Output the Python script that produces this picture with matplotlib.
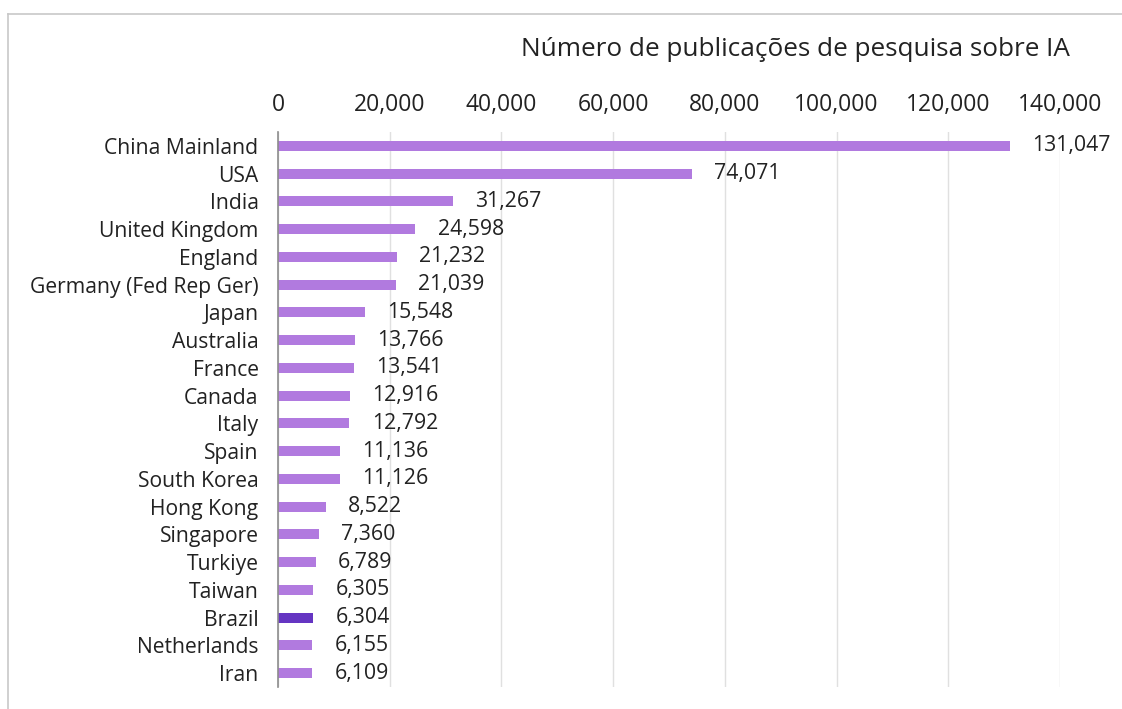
import matplotlib.pyplot as plt
from matplotlib.lines import Line2D

countries = ["China Mainland", "USA", "India", "United Kingdom", "England",
             "Germany (Fed Rep Ger)", "Japan", "Australia", "France", "Canada",
             "Italy", "Spain", "South Korea", "Hong Kong", "Singapore", "Turkiye",
             "Taiwan", "Brazil", "Netherlands", "Iran"]
values = [131047, 74071, 31267, 24598, 21232, 21039, 15548, 13766, 13541, 12916,
          12792, 11136, 11126, 8522, 7360, 6789, 6305, 6304, 6155, 6109]
highlight = "Brazil"
xticks = [0, 20000, 40000, 60000, 80000, 100000, 120000, 140000]
title = "Número de publicações de pesquisa sobre IA"

plt.rcParams['font.family'] = ['Open Sans', 'DejaVu Sans']

fig = plt.figure(figsize=(11.22, 7.09), dpi=100)
ax = fig.add_axes([278/1122, 1-687/709, (1060-278)/1122, (687-132)/709])

colors = ["#6535C2" if c == highlight else "#B17ADF" for c in countries]
y = list(range(len(countries)))
ax.barh(y, values, height=0.36, color=colors, zorder=3)
ax.set_ylim(len(countries)-0.5, -0.5)
ax.set_xlim(0, 140000)
ax.set_yticks(y)
ax.set_yticklabels(countries, fontsize=15.2, color="#222222")
ax.set_xticks(xticks)
ax.set_xticklabels([f"{t:,}" for t in xticks], fontsize=16.5, color="#222222")
ax.xaxis.tick_top()
ax.tick_params(axis='both', length=0)
ax.tick_params(axis='x', pad=11)
ax.tick_params(axis='y', pad=14)
ax.grid(axis='x', color="#E0E0E0", linewidth=1, zorder=0)
for s in ["top", "right", "bottom"]:
    ax.spines[s].set_visible(False)
ax.spines["left"].set_color("#8C8C8C")
ax.spines["left"].set_linewidth(1.2)
ax.spines["left"].set_zorder(4)

for yi, v in zip(y, values):
    ax.annotate(f"{v:,}", (v, yi), xytext=(16, 0), textcoords="offset points",
                va="center", ha="left", fontsize=15.3, color="#222222")

fig.text(1070/1122, 1-50/709, title, ha="right", va="center", fontsize=18.8, color="#222222")

fig.add_artist(Line2D([8/1122, 1], [1-14/709, 1-14/709], transform=fig.transFigure, color="#C8C8C8", lw=1.2))
fig.add_artist(Line2D([8/1122, 8/1122], [1-14/709, 0], transform=fig.transFigure, color="#C8C8C8", lw=1.2))

fig.savefig("out.png", dpi=100, facecolor="white")
